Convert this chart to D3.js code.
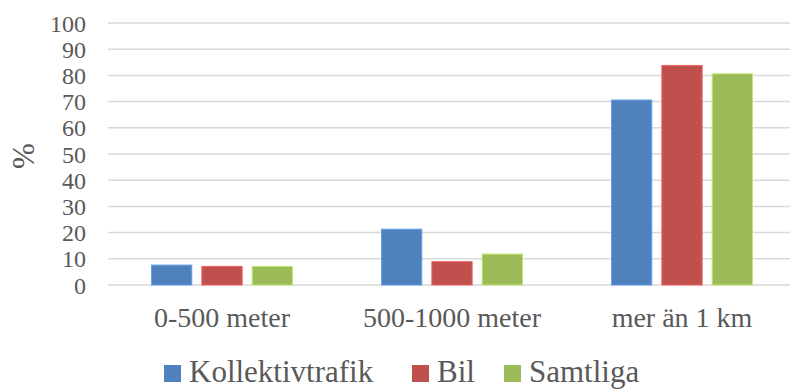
<!DOCTYPE html>
<html>
<head>
<meta charset="utf-8">
<script src="https://cdn.jsdelivr.net/npm/d3@7"></script>
<style>
  body { margin: 0; background: #fff; }
  svg text { font-family: "Liberation Serif", serif; fill: #595959; }
</style>
</head>
<body>
<div id="chart"></div>
<script>
var categories = ["0-500 meter", "500-1000 meter", "mer än 1 km"];
var seriesNames = ["Kollektivtrafik", "Bil", "Samtliga"];
var kollektivtrafik = [7.6, 21.3, 70.6];
var bil = [7.1, 8.9, 83.8];
var samtliga = [7.1, 11.8, 80.6];
var yTicks = [0, 10, 20, 30, 40, 50, 60, 70, 80, 90, 100];
var colors = ["#4F81BD", "#C0504D", "#9BBB59"];

var width = 790, height = 389;
var margin = {top: 23, right: -7, bottom: 104, left: 107};

var values = [kollektivtrafik, bil, samtliga];

var svg = d3.select("#chart").append("svg")
    .attr("width", width)
    .attr("height", height);

// y scale: 0 at y=285, 100 at y=23
var y = d3.scaleLinear()
    .domain([0, 100])
    .range([height - margin.bottom, margin.top]);

var x0 = d3.scaleBand()
    .domain(categories)
    .range([margin.left, width - margin.right])
    .paddingInner(0.387)
    .paddingOuter(0.1935);

var x1 = d3.scaleBand()
    .domain(seriesNames)
    .range([0, x0.bandwidth()])
    .paddingInner(0.2);

// gridlines
svg.append("g")
    .selectAll("line")
    .data(yTicks)
    .enter().append("line")
    .attr("x1", margin.left + 1)
    .attr("x2", width)
    .attr("y1", function(d) { return y(d); })
    .attr("y2", function(d) { return y(d); })
    .style("stroke", "#d9d9d9")
    .style("stroke-width", 1.5);

// y axis labels
var yAxis = d3.axisLeft(y).tickValues(yTicks).tickSize(0).tickPadding(0);
var yg = svg.append("g")
    .attr("transform", "translate(86,0)")
    .call(yAxis);
yg.select(".domain").remove();
yg.selectAll("text")
    .attr("dy", "0.34em")
    .style("font-size", "24px")
    .style("font-family", "Liberation Serif, serif")
    .style("fill", "#595959");

// bars
var groups = svg.append("g")
    .selectAll("g")
    .data(categories)
    .enter().append("g")
    .attr("transform", function(d) { return "translate(" + x0(d) + ",0)"; });

groups.selectAll("rect")
    .data(function(d, i) {
        return seriesNames.map(function(s, j) { return {name: s, value: values[j][i], idx: j}; });
    })
    .enter().append("rect")
    .attr("x", function(d) { return x1(d.name); })
    .attr("width", x1.bandwidth())
    .attr("y", function(d) { return y(d.value); })
    .attr("height", function(d) { return y(0) - y(d.value); })
    .attr("fill", function(d) { return colors[d.idx]; })
    .attr("stroke", function(d) { return d3.color(colors[d.idx]).brighter(0.6); })
    .attr("stroke-width", 1);

// category labels
var xAxis = d3.axisBottom(x0).tickSize(0).tickPadding(0);
var xg = svg.append("g")
    .attr("transform", "translate(0,327)")
    .call(xAxis);
xg.select(".domain").remove();
xg.selectAll("text")
    .attr("dy", 0)
    .style("font-size", "28px")
    .style("font-family", "Liberation Serif, serif")
    .style("fill", "#595959");

// y axis title
svg.append("text")
    .attr("transform", "translate(34,156) rotate(-90)")
    .attr("text-anchor", "middle")
    .style("font-size", "31px")
    .text("%");

// legend
var legendX = [164, 412, 504];
var legend = svg.append("g")
    .selectAll("g")
    .data(seriesNames)
    .enter().append("g")
    .attr("transform", function(d, i) { return "translate(" + legendX[i] + ",0)"; });

legend.append("rect")
    .attr("x", 0)
    .attr("y", 365)
    .attr("width", 17)
    .attr("height", 17)
    .attr("fill", function(d, i) { return colors[i]; });

legend.append("text")
    .attr("x", 25)
    .attr("y", 382)
    .style("font-size", "31px")
    .text(function(d) { return d; });
</script>
</body>
</html>
